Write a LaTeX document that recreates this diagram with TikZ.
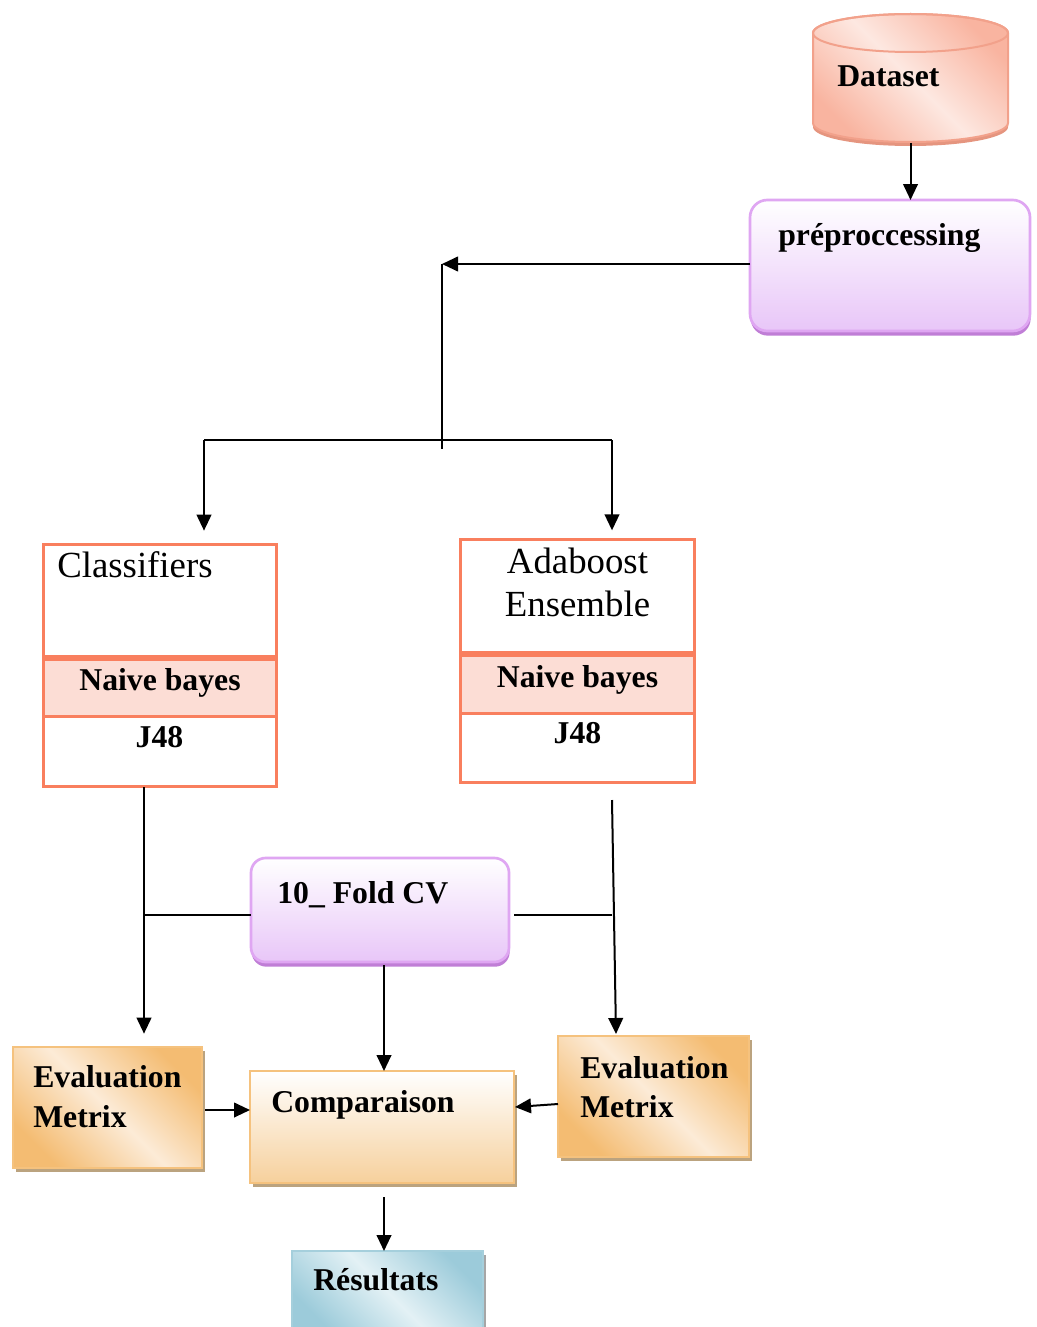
\documentclass[tikz,border=0pt]{standalone}
\usepackage{fontspec}
\setmainfont{Liberation Serif}
\usetikzlibrary{arrows.meta,shadows}

\definecolor{coral}{HTML}{F97F5E}
\definecolor{nbpink}{HTML}{FCDDD5}
\definecolor{purpBorder}{HTML}{DFA6F2}
\definecolor{purpLow}{HTML}{E8C6F8}
\definecolor{purpShadow}{HTML}{C07ED6}
\definecolor{orDeep}{HTML}{F4BC72}
\definecolor{orLight}{HTML}{FCEBD7}
\definecolor{orBorder}{HTML}{F5C27E}
\definecolor{cmpLow}{HTML}{F6D09C}
\definecolor{brownShadow}{HTML}{BBA37F}
\definecolor{salDeep}{HTML}{F9B4A0}
\definecolor{salLight}{HTML}{FDE8E1}
\definecolor{salBorder}{HTML}{F2A18B}
\definecolor{salShadow}{HTML}{E5957F}
\definecolor{blueDeep}{HTML}{9CCBDA}
\definecolor{blueLight}{HTML}{E3F1F5}
\definecolor{blueBorder}{HTML}{A5CFDC}

\begin{document}
\begin{tikzpicture}[x=0.75pt,y=-0.75pt,
  wh/.style 2 args={minimum width=#1*0.75pt, minimum height=#2*0.75pt},
  box/.style={inner sep=0pt, outer sep=0pt, anchor=north west},
  conn/.style={line width=1.5pt, black},
  arr/.style={conn, -{Triangle[length=12pt,width=11pt]}},
  bold/.style={inner sep=0pt, font=\bfseries\fontsize{23.8pt}{28pt}\selectfont},
  plain/.style={inner sep=0pt, font=\fontsize{27.6pt}{33pt}\selectfont},
  purplebox/.style={box, draw=purpBorder, line width=2pt, rounded corners=13pt,
    top color=white, bottom color=purpLow,
    drop shadow={shadow xshift=0.5pt, shadow yshift=-3.5pt, fill=purpShadow, opacity=1}},
  coralcell/.style={box, draw=coral, line width=2.25pt, fill=white},
  nbcell/.style={coralcell, fill=nbpink},
  orangebox/.style={box, draw=orBorder, line width=1.5pt,
    top color=orDeep, bottom color=orDeep, middle color=orLight, shading angle=-45,
    drop shadow={shadow xshift=2.5pt, shadow yshift=-3pt, fill=brownShadow, opacity=1}},
  cmpbox/.style={box, draw=orBorder, line width=1.5pt,
    top color=white, bottom color=cmpLow,
    drop shadow={shadow xshift=2.5pt, shadow yshift=-3pt, fill=brownShadow, opacity=1}},
  bluebox/.style={box, draw=blueBorder, line width=1.5pt,
    top color=blueDeep, bottom color=blueDeep, middle color=blueLight, shading angle=-45,
    drop shadow={shadow xshift=2.5pt, shadow yshift=-3pt, fill=black!35, opacity=1}}
]
\fill[white] (0,0) rectangle (1036,1327);
\useasboundingbox (0,0) rectangle (1036,1327);

% ---- Dataset cylinder ----
\fill[salShadow] (813,37) arc[start angle=180,end angle=0,x radius=73.125pt,y radius=14.25pt]
  -- (1008,127) arc[start angle=0,end angle=-180,x radius=73.125pt,y radius=14.25pt] -- cycle;
\path[top color=salDeep, bottom color=salDeep, middle color=salLight, shading angle=-45,
      draw=salBorder, line width=1.5pt]
  (813,33) arc[start angle=180,end angle=0,x radius=73.125pt,y radius=14.25pt]
  -- (1008,123) arc[start angle=0,end angle=-180,x radius=73.125pt,y radius=14.25pt] -- cycle;
\draw[salBorder, line width=1.5pt] (910.5,33) ellipse[x radius=73.125pt, y radius=14.25pt];
\node[box, wh={195}{130}] (ds) at (813,13) {};
\node[bold, anchor=base west] (dsT) at (837,87) {Dataset};

% ---- preprocessing ----
\node[purplebox, wh={280}{131}] (pre) at (750,200) {};
\node[bold, anchor=base west] (preT) at (778,245) {préproccessing};

% ---- Classifiers ----
\node[coralcell, wh={233}{112}] (clsTop) at (43,544) {};
\node[nbcell, wh={233}{57}] (clsNB) at (43,659) {};
\node[coralcell, wh={233}{70}] (clsJ) at (43,716) {};
\node[plain, anchor=base west] (clsT) at (57,577) {Classifiers};
\node[bold, anchor=base] (clsNBT) at (160,690) {Naive bayes};
\node[bold, anchor=base] (clsJT) at (159.5,747) {J48};

% ---- Adaboost Ensemble ----
\node[coralcell, wh={234}{113}] (adaTop) at (460,539) {};
\node[nbcell, wh={234}{58}] (adaNB) at (460,655) {};
\node[coralcell, wh={234}{69}] (adaJ) at (460,713) {};
\node[plain, anchor=base] (adaT1) at (577.5,573) {Adaboost};
\node[plain, anchor=base] (adaT2) at (577.5,616) {Ensemble};
\node[bold, anchor=base] (adaNBT) at (577.5,687) {Naive bayes};
\node[bold, anchor=base] (adaJT) at (577.5,743) {J48};

% ---- 10 fold CV ----
\node[purplebox, rounded corners=11pt, wh={258}{104}] (fold) at (251,858) {};
\node[bold, anchor=base west] (foldT) at (277,903) {10\_ Fold CV};

% ---- evaluation, comparison, results ----
\node[orangebox, wh={189}{121}] (evL) at (13,1047) {};
\node[bold, anchor=base west] (evLT1) at (33,1087) {Evaluation};
\node[bold, anchor=base west] (evLT2) at (33,1127) {Metrix};

\node[cmpbox, wh={264}{112}] (cmp) at (250,1071) {};
\node[bold, anchor=base west] (cmpT) at (271,1112) {Comparaison};

\node[orangebox, wh={191}{121}] (evR) at (558,1036) {};
\node[bold, anchor=base west] (evRT1) at (580,1078) {Evaluation};
\node[bold, anchor=base west] (evRT2) at (580,1117) {Metrix};

\node[bluebox, wh={191}{82}] (res) at (292,1251) {};
\node[bold, anchor=base west] (resT) at (313,1290) {Résultats};

% ---- connectors ----
\coordinate (jn) at (442,264);
\coordinate (jb) at (442,449);
\coordinate (cl) at (204,440);
\coordinate (cr) at (612,440);
\coordinate (lv) at (144,787);
\coordinate (hl) at (144,915);
\coordinate (rv1) at (612,800);
\coordinate (rv2) at (616,1034);
\coordinate (hr) at (612,915);
\coordinate (mv) at (384,965);
\coordinate (la) at (205,1110);
\coordinate (ra1) at (558,1104);
\coordinate (ra2) at (515,1107);
\coordinate (bv) at (384,1197);

\draw[arr] (ds.south) -- (ds.south |- pre.north);
\draw[arr] (jn -| pre.west) -- (jn);
\draw[conn] (jn) -- (jb);
\draw[conn] (cl) -- (cr);
\draw[arr, shorten >=10pt] (cl) -- (cl |- clsTop.north);
\draw[arr, shorten >=6.5pt] (cr) -- (cr |- adaTop.north);
\draw[arr, shorten >=10pt] (lv) -- (lv |- evL.north);
\draw[conn] (hl) -- (hl -| fold.west);
\draw[arr] (rv1) -- (rv2);
\draw[conn] ([xshift=4pt]hr -| fold.east) -- (hr);
\draw[arr] (mv) -- (mv |- cmp.north);
\draw[arr] (la) -- (la -| cmp.west);
\draw[arr] (ra1) -- (ra2);
\draw[arr] (bv) -- (bv |- res.north);
\end{tikzpicture}
\end{document}
